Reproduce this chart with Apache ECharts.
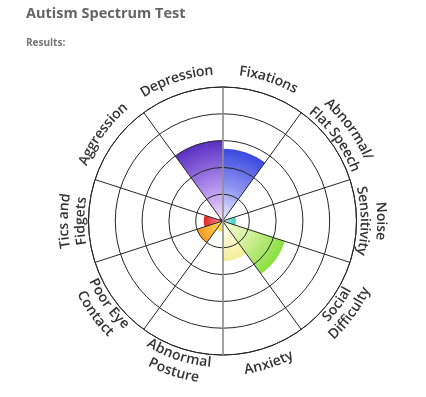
<!DOCTYPE html>
<html><head><meta charset="utf-8">
<script src="https://cdn.jsdelivr.net/npm/echarts@6/dist/echarts.min.js"></script>
<style>html,body{margin:0;padding:0;background:#fff}#c{width:426px;height:397px}</style>
</head><body><div id="c"></div>
<script>
// ---- data ----
const categories = ['Fixations','Abnormal/\nFlat Speech','Noise\nSensitivity','Social\nDifficulty','Anxiety','Abnormal\nPosture','Poor Eye\nContact','Tics and\nFidgets','Aggression','Depression'];
const scores = [2.7, 0, 0.5, 2.45, 1.5, 0.4, 1.0, 0.7, 0.15, 3.0];
const radiusMin = 0;
const radiusMax = 5;
const radiusInterval = 1;
const titleText = 'Autism Spectrum Test';
const subtitleText = 'Results:';

// ---- styles ----
const innerColors = ['#f2f0ff','#eef0ff','#c0f4f0','#fbfbe0','#ffffff','#fbe890','#f9dc58','#ff9a9a','#c060e0','#fae0fa'];
const midColors   = ['#8a92f0','#8890f0','#80e4dc','#d0ee96','#fbf8cc','#f8e070','#f7be40','#f05c5c','#a040d0','#a886ea'];
const outerColors = ['#3a48e0','#3a48e0','#38ccc4','#88e040','#f4ee98','#f6dc50','#f39a24','#e02626','#8a2cc0','#5a30c2'];

const CX = 222.5, CY = 221, R = 134;
const FONT = '600 14px "Open Sans"';
const LABEL_R = 150.5, LINE_GAP = 16.5;

const chart = echarts.init(document.getElementById('c'));

function pxRadius(v){ return Math.max(1, (v - radiusMin) / (radiusMax - radiusMin) * R); }

const barData = scores.map((v, i) => ({
  value: v,
  itemStyle: {
    color: {
      type: 'radial', x: CX, y: CY, r: pxRadius(v), global: true,
      colorStops: [
        {offset: 0, color: innerColors[i]},
        {offset: 0.5, color: midColors[i]},
        {offset: 1, color: outerColors[i]}
      ]
    }
  }
}));

// curved labels, one text element per character
const ctx = document.createElement('canvas').getContext('2d');
ctx.font = FONT;
const graphics = [];
const n = categories.length;
categories.forEach((cat, i) => {
  const theta = (i + 0.5) * 2 * Math.PI / n; // clockwise from top
  const deg = theta * 180 / Math.PI;
  const topStyle = deg <= 90.01 || deg >= 269.99;
  const lines = cat.split('\n');
  const nl = lines.length;
  lines.forEach((line, j) => {
    const off = ((nl - 1) / 2 - j) * LINE_GAP;
    const r = topStyle ? LABEL_R + off : LABEL_R - off;
    const widths = Array.from(line).map(ch => ctx.measureText(ch).width);
    const W = widths.reduce((a, b) => a + b, 0);
    let s = 0;
    Array.from(line).forEach((ch, k) => {
      const mid = s + widths[k] / 2;
      s += widths[k];
      if (ch === ' ') return;
      let phi, rot;
      if (topStyle) {
        phi = theta - W / (2 * r) + mid / r;
        rot = -phi;
      } else {
        phi = theta + W / (2 * r) - mid / r;
        rot = Math.PI - phi;
      }
      graphics.push({
        type: 'text', silent: true,
        x: CX + r * Math.sin(phi), y: CY - r * Math.cos(phi),
        rotation: rot,
        style: {text: ch, font: FONT, fill: '#333', align: 'center', verticalAlign: 'middle'}
      });
    });
  });
});

const splitColors = categories.map((c, i) => (i === 0 || i === n / 2) ? 'rgba(0,0,0,0)' : '#262626');

chart.setOption({
  animation: false,
  backgroundColor: '#fff',
  title: [
    {text: titleText, left: 26, top: 6, padding: 0,
     textStyle: {fontFamily: 'Open Sans', fontSize: 14.5, fontWeight: 'bold', color: '#646464'}},
    {text: subtitleText, left: 26, top: 38, padding: 0,
     textStyle: {fontFamily: 'Open Sans', fontSize: 10, fontWeight: 'bold', color: '#777'}}
  ],
  polar: [
    {center: [CX, CY], radius: R},
    {center: [CX, CY], radius: R}
  ],
  angleAxis: [
    {polarIndex: 0, type: 'category', data: categories, startAngle: 90, clockwise: true, z: 10,
     axisLine: {show: true, lineStyle: {color: '#262626', width: 1}},
     axisTick: {show: false}, axisLabel: {show: false},
     splitLine: {show: true, lineStyle: {color: splitColors, width: 1}}},
    {polarIndex: 1, type: 'category', data: categories, startAngle: 270, clockwise: true, z: 11,
     axisLine: {show: false}, axisTick: {show: false}, axisLabel: {show: false}, splitLine: {show: false}}
  ],
  radiusAxis: [
    {polarIndex: 0, type: 'value', min: radiusMin, max: radiusMax, interval: radiusInterval, z: 10,
     axisLine: {show: true, lineStyle: {color: '#8c8c8c', width: 1.6}},
     axisTick: {show: false}, axisLabel: {show: false},
     splitLine: {show: true, lineStyle: {color: '#262626', width: 1}}},
    {polarIndex: 1, type: 'value', min: radiusMin, max: radiusMax, interval: radiusInterval, z: 11,
     axisLine: {show: true, lineStyle: {color: '#8c8c8c', width: 1.6}},
     axisTick: {show: false}, axisLabel: {show: false}, splitLine: {show: false}}
  ],
  series: [{
    type: 'bar', coordinateSystem: 'polar', polarIndex: 0,
    barCategoryGap: '0%', z: 2,
    data: barData,
    emphasis: {disabled: true}
  }],
  graphic: graphics
});
</script>
</body></html>
